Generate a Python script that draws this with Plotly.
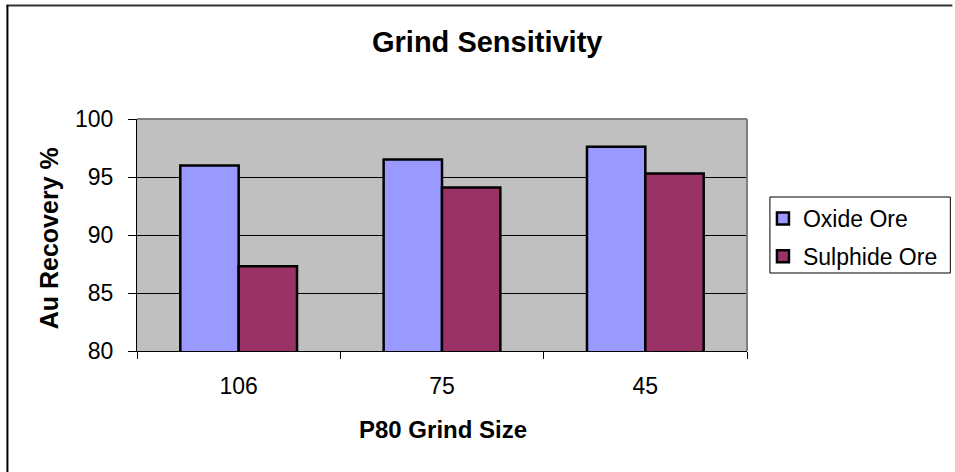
import plotly.graph_objects as go

# Grind sensitivity test results
grind_sizes = ["106", "75", "45"]
oxide_recovery = [96.0, 96.5, 97.6]
sulphide_recovery = [87.3, 94.1, 95.3]

W, H = 955, 472
L, R, T, B = 137, 749, 119, 351  # plot-area pixel bounds


def px(x):
    return (x - L) / (R - L)


def py(y):
    return (B - y) / (B - T)


FONT = "Arial, Liberation Sans, sans-serif"

fig = go.Figure()
fig.add_trace(go.Bar(
    name="Oxide Ore", x=grind_sizes, y=oxide_recovery,
    marker=dict(color="#9999FF", line=dict(color="black", width=2.5)),
    legendgroup="a",
))
fig.add_trace(go.Bar(
    name="Sulphide Ore", x=grind_sizes, y=sulphide_recovery,
    marker=dict(color="#993366", line=dict(color="black", width=2.5)),
    legendgroup="b",
))

fig.update_layout(
    width=W, height=H,
    margin=dict(l=L, r=W - R, t=T, b=H - B, pad=0),
    paper_bgcolor="white",
    plot_bgcolor="#C0C0C0",
    barmode="group",
    bargap=0.426,
    bargroupgap=0,
    font=dict(family=FONT, size=23, color="black"),
    showlegend=True,
    legend=dict(
        x=px(765), y=py(197), xanchor="left", yanchor="top",
        bgcolor="rgba(0,0,0,0)", borderwidth=0,
        font=dict(size=23),
        traceorder="grouped", tracegroupgap=5,
    ),
    xaxis=dict(
        type="category",
        showline=True, linecolor="black", linewidth=1,
        ticks="outside", tickson="boundaries", ticklen=7, tickcolor="black",
        showgrid=False, ticklabelstandoff=14,
        tickfont=dict(size=23),
    ),
    yaxis=dict(
        range=[80, 100], dtick=5,
        showline=True, linecolor="black", linewidth=1,
        ticks="outside", ticklen=8, tickcolor="black",
        showgrid=True, gridcolor="black", gridwidth=1,
        zeroline=False, ticklabelstandoff=10,
        tickfont=dict(size=23),
    ),
    annotations=[
        dict(text="<b>Grind Sensitivity</b>", x=px(488), y=py(42),
             xref="paper", yref="paper", showarrow=False,
             xanchor="center", yanchor="middle", font=dict(size=29)),
        dict(text="<b>Au Recovery %</b>", x=px(49), y=py(238),
             xref="paper", yref="paper", showarrow=False, textangle=-90,
             xanchor="center", yanchor="middle", font=dict(size=25)),
        dict(text="<b>P80 Grind Size</b>", x=px(444), y=py(429),
             xref="paper", yref="paper", showarrow=False,
             xanchor="center", yanchor="middle", font=dict(size=24)),
    ],
    shapes=[
        # grey frame on top and right of plot area
        dict(type="line", xref="paper", yref="paper", x0=0, x1=1, y0=1, y1=1,
             line=dict(color="#808080", width=2), layer="above"),
        dict(type="line", xref="paper", yref="paper", x0=1, x1=1, y0=0, y1=1,
             line=dict(color="#808080", width=2), layer="above"),
        # legend box
        dict(type="rect", xref="paper", yref="paper",
             x0=px(772), x1=px(953), y0=py(273), y1=py(197),
             line=dict(color="black", width=1), fillcolor="rgba(0,0,0,0)"),
        # outer chart border (top and left)
        dict(type="line", xref="paper", yref="paper",
             x0=px(6), x1=px(955), y0=py(5.5), y1=py(5.5),
             line=dict(color="#333333", width=2)),
        dict(type="line", xref="paper", yref="paper",
             x0=px(7), x1=px(7), y0=py(5), y1=py(472),
             line=dict(color="black", width=2)),
    ],
)

fig.write_html("out.html")
